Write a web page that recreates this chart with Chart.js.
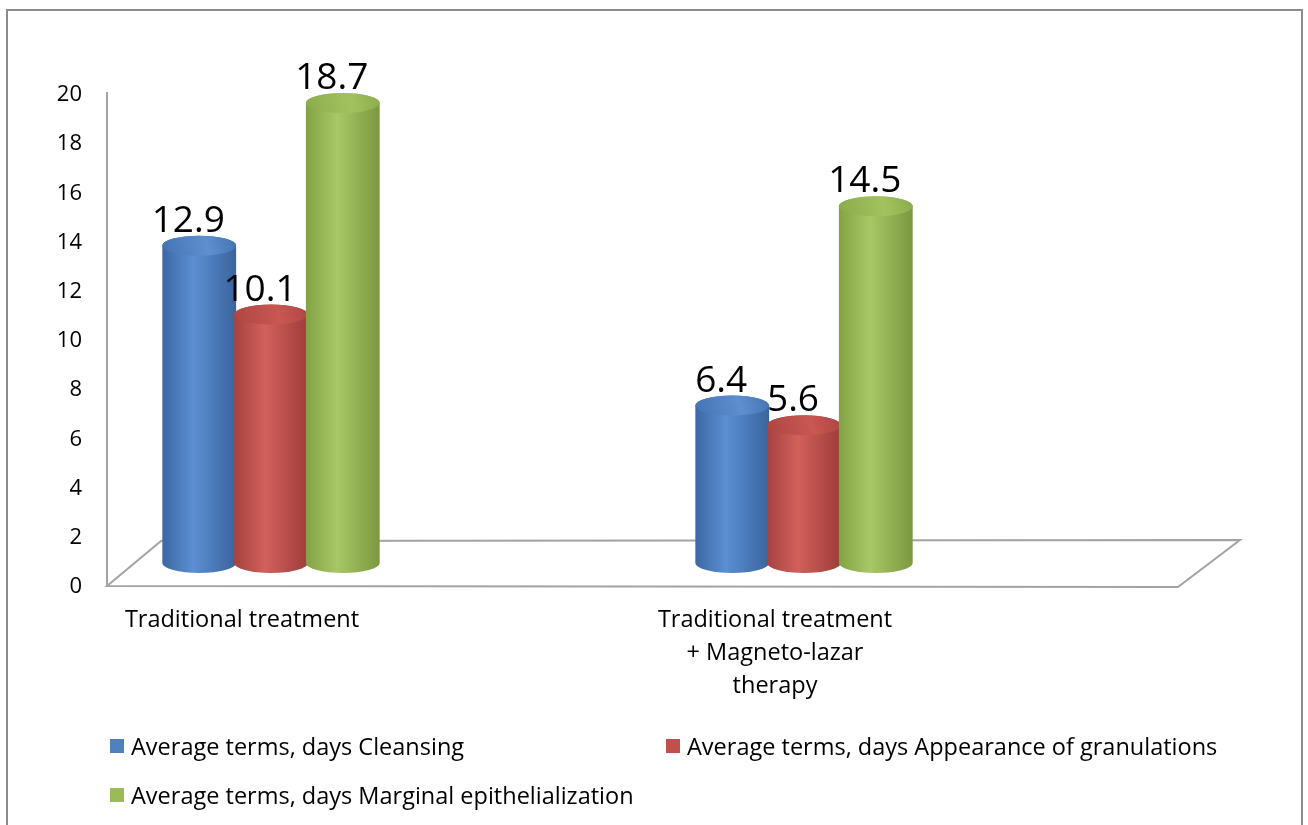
<!DOCTYPE html>
<html>
<head>
<meta charset="utf-8">
<script src="https://cdn.jsdelivr.net/npm/chart.js@4/dist/chart.umd.min.js"></script>
<style>
html,body{margin:0;padding:0;background:#fff;width:1308px;height:825px;overflow:hidden;font-family:'Open Sans',sans-serif;}
#wrap{position:relative;width:1308px;height:825px;}
#frame{position:absolute;left:6px;top:9px;width:1297px;height:900px;border:2px solid #8c8c8c;box-sizing:border-box;}
#c{position:absolute;left:0;top:0;}
.li{position:absolute;display:flex;align-items:center;height:30px;font-size:23.5px;line-height:30px;color:#000;white-space:nowrap;}
.sw{width:14px;height:14px;margin-right:7px;flex:none;}
</style>
</head>
<body>
<div id="wrap">
  <div id="frame"></div>
  <canvas id="c" width="1308" height="825"></canvas>
  <div id="legend"></div>
</div>
<script>
// ---- data ----
const categories = ['Traditional treatment', ['Traditional treatment', '+ Magneto-lazar', 'therapy']];
const seriesNames = [
  'Average terms, days Cleansing',
  'Average terms, days Appearance of granulations',
  'Average terms, days Marginal epithelialization'
];
const cleansing = [12.9, 6.4];
const granulations = [10.1, 5.6];
const epithelialization = [18.7, 14.5];
const yTickValues = [0, 2, 4, 6, 8, 10, 12, 14, 16, 18, 20];

// ---- styles ----
const colors = ['#4F81BD', '#C0504D', '#9BBB59'];
const shades = [
  {e1:'#3c68a3', m:'#5b8fd2', e2:'#3a649d', t1:'#4373b3', t2:'#5f8fcf'},
  {e1:'#a5423f', m:'#d2605b', e2:'#9c3d3a', t1:'#ad4542', t2:'#c95753'},
  {e1:'#83a245', m:'#a8c866', e2:'#7b983f', t1:'#8aab4b', t2:'#a3c25f'}
];
const DX = 29, DY = -24, RY = 10;

function cylinder(ctx, cx, top, bottom, w, sh) {
  const rx = w / 2, l = cx - rx, r = cx + rx;
  const g = ctx.createLinearGradient(l, 0, r, 0);
  g.addColorStop(0, sh.e1);
  g.addColorStop(0.42, sh.m);
  g.addColorStop(1, sh.e2);
  ctx.fillStyle = g;
  ctx.beginPath();
  ctx.moveTo(l, top);
  ctx.lineTo(l, bottom);
  ctx.ellipse(cx, bottom, rx, RY, 0, Math.PI, 0, true);
  ctx.lineTo(r, top);
  ctx.ellipse(cx, top, rx, RY, 0, 0, Math.PI, true);
  ctx.closePath();
  ctx.fill();
  const tg = ctx.createLinearGradient(l, top + RY, r, top - RY);
  tg.addColorStop(0, sh.t1);
  tg.addColorStop(0.6, sh.t2);
  tg.addColorStop(1, sh.t1);
  ctx.fillStyle = tg;
  ctx.beginPath();
  ctx.ellipse(cx, top, rx, RY, 0, 0, Math.PI * 2);
  ctx.fill();
}

const cylPlugin = {
  id: 'cyl',
  beforeDatasetsDraw(chart) {
    const ctx = chart.ctx, a = chart.chartArea;
    ctx.save();
    // floor
    ctx.strokeStyle = '#a3a3a3';
    ctx.lineWidth = 2;
    ctx.beginPath();
    ctx.moveTo(a.left, a.bottom - 1);
    ctx.lineTo(a.left + 54, a.bottom - 46);
    ctx.lineTo(a.right + 62, a.bottom - 47);
    ctx.lineTo(a.right, a.bottom);
    ctx.closePath();
    ctx.stroke();
    // vertical axis line
    ctx.beginPath();
    ctx.moveTo(a.left, a.top - 3);
    ctx.lineTo(a.left, a.bottom - 1);
    ctx.stroke();
    // cylinders
    for (let i = 0; i < categories.length; i++) {
      chart.data.datasets.forEach((ds, d) => {
        const el = chart.getDatasetMeta(d).data[i];
        if (!el) return;
        const p = el.getProps(['x', 'y', 'base', 'width'], true);
        const cx = p.x + DX;
        const top = p.y + DY;
        const bottom = p.base + DY;
        cylinder(ctx, cx, top, bottom, p.width + 2, shades[d]);
      });
    }
    // value labels
    ctx.fillStyle = '#000';
    ctx.font = '37px "Open Sans"';
    ctx.textAlign = 'center';
    ctx.textBaseline = 'alphabetic';
    for (let i = 0; i < categories.length; i++) {
      chart.data.datasets.forEach((ds, d) => {
        const el = chart.getDatasetMeta(d).data[i];
        const p = el.getProps(['x', 'y'], true);
        const cx = p.x + DX;
        const top = p.y + DY;
        ctx.fillText(String(ds.data[i].y), cx - 11, top - RY - 4);
      });
    }
    ctx.restore();
    return false;
  }
};

const seriesValues = [cleansing, granulations, epithelialization];
const chart = new Chart(document.getElementById('c'), {
  type: 'bar',
  data: {
    datasets: seriesValues.map((vals, d) => ({
      label: seriesNames[d],
      data: vals.map((v, i) => ({x: i, y: v})),
      backgroundColor: colors[d],
      borderWidth: 0
    }))
  },
  options: {
    responsive: false,
    animation: false,
    categoryPercentage: 0.404,
    barPercentage: 1,
    layout: {padding: {left: 0, right: 130, top: 95, bottom: 100}},
    plugins: {legend: {display: false}, tooltip: {enabled: false}},
    scales: {
      x: {
        type: 'linear',
        offset: false,
        min: (107 - 242) / 533,
        max: (1178 - 242) / 533,
        afterBuildTicks: s => { s.ticks = categories.map((c, i) => ({value: i})); },
        afterFit: s => { s.height = 138; },
        grid: {display: false, drawTicks: false},
        border: {display: false},
        ticks: {
          autoSkip: false,
          maxRotation: 0,
          padding: 17,
          color: '#000',
          font: {family: 'Open Sans', size: 23.5, lineHeight: 1.4},
          callback: v => categories[v]
        }
      },
      y: {
        min: 0,
        max: 20,
        afterBuildTicks: s => { s.ticks = yTickValues.map(v => ({value: v})); },
        afterFit: s => { s.width = 107; },
        grid: {display: false, drawTicks: false},
        border: {display: false},
        ticks: {
          padding: 25,
          color: '#000',
          font: {family: 'Open Sans', size: 22}
        }
      }
    }
  },
  plugins: [cylPlugin]
});

// HTML legend from chart's own legend items
const items = Chart.defaults.plugins.legend.labels.generateLabels(chart);
const pos = [{l: 110, t: 731}, {l: 666, t: 731}, {l: 110, t: 780}];
const lg = document.getElementById('legend');
items.forEach((it, k) => {
  const div = document.createElement('div');
  div.className = 'li';
  div.style.left = pos[k].l + 'px';
  div.style.top = pos[k].t + 'px';
  const sw = document.createElement('span');
  sw.className = 'sw';
  sw.style.background = it.fillStyle;
  const tx = document.createElement('span');
  tx.textContent = it.text;
  div.appendChild(sw);
  div.appendChild(tx);
  lg.appendChild(div);
});
</script>
</body>
</html>
